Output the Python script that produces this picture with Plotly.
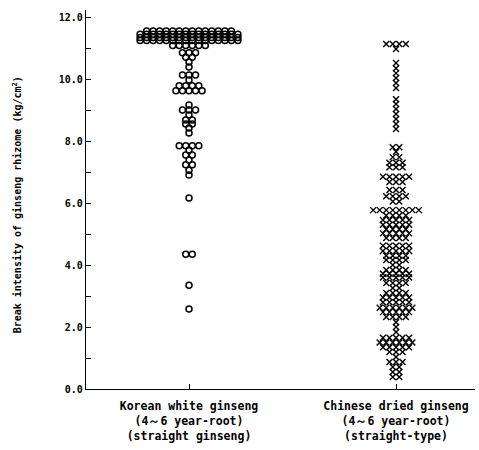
import plotly.graph_objects as go

# ---- data (value levels and number of samples at each level) ----
categories = ["Korean white ginseng<br>(4～6 year-root)<br>(straight ginseng)",
              "Chinese dried ginseng<br>(4～6 year-root)<br>(straight-type)"]

korean_levels = [11.55, 11.44, 11.34, 11.24, 11.08, 10.85, 10.7, 10.55, 10.39, 10.13, 9.97,
                 9.78, 9.62, 9.16, 9.0, 8.84, 8.68, 8.55, 8.42, 8.26, 7.85, 7.7, 7.55,
                 7.39, 7.23, 7.06, 6.9, 6.16, 4.35, 3.35, 2.58]
korean_counts = [14, 16, 16, 16, 6, 3, 2, 1, 1, 3, 1,
                 4, 5, 1, 3, 1, 2, 2, 1, 1, 4, 1, 2,
                 1, 2, 1, 1, 1, 2, 1, 1]

chinese_levels = [11.13, 10.97, 10.52, 10.35, 10.19, 10.03, 9.87, 9.71,
                  9.35, 9.19, 9.03, 8.87, 8.71, 8.55, 8.39,
                  7.8, 7.65, 7.48, 7.3, 7.15, 6.85, 6.68, 6.42, 6.22, 6.05,
                  5.77, 5.6, 5.45, 5.3, 5.15, 5.02, 4.87, 4.62, 4.45, 4.3, 4.16, 4.0,
                  3.84, 3.72, 3.6, 3.42, 3.26, 3.1, 2.95, 2.8, 2.62, 2.48, 2.32, 2.15,
                  2.0, 1.84, 1.65, 1.5, 1.35, 1.19, 1.03, 0.87, 0.71, 0.55, 0.39]
chinese_counts = [4, 1, 1, 1, 1, 1, 1, 1,
                  1, 1, 1, 1, 1, 1, 1,
                  2, 1, 2, 3, 3, 5, 3, 3, 4, 2,
                  8, 4, 5, 5, 4, 5, 4, 5, 5, 4, 4, 2,
                  4, 5, 5, 4, 2, 4, 5, 5, 6, 5, 4, 1,
                  1, 1, 5, 6, 5, 3, 1, 3, 2, 2, 2]

y_tick_values = [0, 2, 4, 6, 8, 10, 12]
y_tick_labels = ["0.0", "2.0", "4.0", "6.0", "8.0", "10.0", "12.0"]

y_title = "Break intensity of ginseng rhizome (kg/cm<sup>2</sup>)"


def expand(levels, counts, center, step):
    xs, ys = [], []
    for v, n in zip(levels, counts):
        for i in range(n):
            xs.append(center + (i - (n - 1) / 2) * step)
            ys.append(v)
    return xs, ys


STEP = 0.0315
kx, ky = expand(korean_levels, korean_counts, 0, STEP)
cx, cy = expand(chinese_levels, chinese_counts, 1, STEP)

FONT = "DejaVu Sans Mono"

fig = go.Figure()
fig.add_trace(go.Scatter(
    x=kx, y=ky, mode="markers", showlegend=False,
    marker=dict(symbol="circle-open", size=6, color="black",
                line=dict(width=1.5, color="black"))))
fig.add_trace(go.Scatter(
    x=cx, y=cy, mode="markers", showlegend=False,
    marker=dict(symbol="x-thin", size=6, color="black",
                line=dict(width=1.4, color="black"))))

fig.update_layout(
    width=479, height=450,
    margin=dict(l=86, r=4, t=10, b=61, autoexpand=False),
    paper_bgcolor="white", plot_bgcolor="white",
    font=dict(family=FONT, color="black"),
    xaxis=dict(range=[-0.4976, 1.3816], tickvals=[0, 1], ticktext=categories,
               ticks="inside", ticklen=5, tickcolor="black", tickwidth=1,
               showline=True, linecolor="black", linewidth=1.2,
               showgrid=False, zeroline=False, ticklabelstandoff=6,
               tickfont=dict(family=FONT, size=11.5, weight="bold", color="black")),
    yaxis=dict(range=[0, 12.226], tickvals=y_tick_values, ticktext=y_tick_labels,
               ticks="inside", ticklen=5, tickcolor="black", tickwidth=1,
               minor=dict(ticks="inside", ticklen=5, tickcolor="black", tickwidth=1,
                          dtick=1, showgrid=False),
               showline=True, linecolor="black", linewidth=1.2,
               showgrid=False, zeroline=False,
               tickfont=dict(family=FONT, size=10, weight="bold", color="black")),
    annotations=[dict(text=y_title, xref="paper", yref="paper",
                      x=-0.177, y=0.485, xanchor="center", yanchor="middle",
                      textangle=-90, showarrow=False,
                      font=dict(family=FONT, size=10, weight="bold", color="black"))],
)

fig.write_html("out.html", config={"displayModeBar": False},
               post_script="document.body.style.margin='0';document.body.style.overflow='hidden';")
